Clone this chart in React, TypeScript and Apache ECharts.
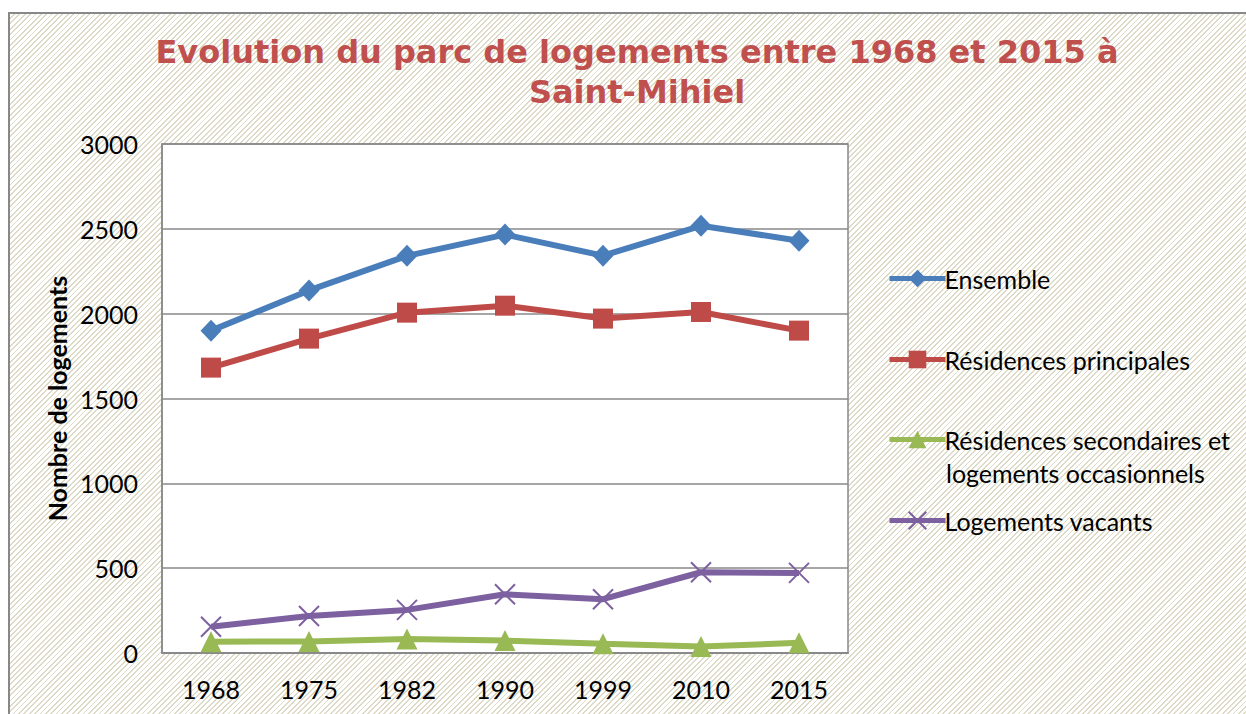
import React, { useEffect, useRef } from "react";
import * as echarts from "echarts";

const years = ["1968", "1975", "1982", "1990", "1999", "2010", "2015"];
const ensemble = [1900, 2137, 2341, 2466, 2342, 2518, 2430];
const principales = [1682, 1853, 2006, 2047, 1971, 2010, 1900];
const secondaires = [67, 68, 83, 73, 54, 38, 60];
const vacants = [155, 218, 254, 346, 317, 476, 472];
const yTicks = { min: 0, max: 3000, interval: 500 };

const seriesNames = [
  "Ensemble",
  "Résidences principales",
  "Résidences secondaires et logements occasionnels",
  "Logements vacants",
];

const FONT = "Lato";
const FS = 25;

export default function App() {
  const ref = useRef<HTMLDivElement>(null);
  useEffect(() => {
    if (!ref.current) return;
    const chart = echarts.init(ref.current, undefined, { renderer: "svg" });
    const legendBase = (name: string, top: number) => ({
      data: [name],
      orient: "vertical",
      left: 877,
      top,
      itemWidth: 56,
      itemHeight: 22,
      itemGap: 0,
      padding: 0,
      selectedMode: false,
      lineStyle: { width: 5 },
      textStyle: { fontFamily: FONT, fontSize: FS, color: "#000", padding: [0, 0, 0, -6] },
      formatter: (n: string) =>
        n === seriesNames[2] ? "Résidences secondaires et" : n,
    });
    chart.setOption({
      animation: false,
      backgroundColor: "transparent",
      title: {
        text: "Evolution du parc de logements entre 1968 et 2015 à\nSaint-Mihiel",
        left: 622,
        textAlign: "center",
        top: 13,
        textStyle: {
          fontFamily: "DejaVu Sans",
          fontWeight: "bold",
          fontSize: 32,
          lineHeight: 40,
          color: "#C0504D",
        },
      },
      grid: {
        left: 152,
        top: 130,
        width: 686,
        height: 509,
        show: true,
        backgroundColor: "#fff",
        borderColor: "#888",
        borderWidth: 1.5,
      },
      legend: [
        legendBase(seriesNames[0], 252),
        legendBase(seriesNames[1], 333),
        legendBase(seriesNames[2], 413),
        legendBase(seriesNames[3], 494),
      ],
      graphic: [
        {
          type: "text",
          left: 936,
          top: 446,
          style: { text: "logements occasionnels", fontFamily: FONT, fontSize: FS, fill: "#000" },
        },
      ],
      xAxis: {
        type: "category",
        data: years,
        boundaryGap: true,
        axisLine: { lineStyle: { color: "#888", width: 1.5 } },
        axisTick: { show: false },
        axisLabel: { fontFamily: FONT, fontSize: FS, color: "#000", margin: 23 },
      },
      yAxis: {
        type: "value",
        min: yTicks.min,
        max: yTicks.max,
        interval: yTicks.interval,
        name: "Nombre de logements",
        nameLocation: "middle",
        nameGap: 91,
        nameTextStyle: { fontFamily: FONT, fontSize: FS, fontWeight: "bold", color: "#000" },
        axisLine: { show: true, lineStyle: { color: "#888", width: 1.5 } },
        axisTick: { show: false },
        splitLine: { lineStyle: { color: "#888", width: 1.5 } },
        axisLabel: {
          fontFamily: FONT,
          fontSize: FS,
          color: "#000",
          margin: 24,
          formatter: (v: number) => String(v),
        },
      },
      series: [
        {
          name: seriesNames[0],
          type: "line",
          data: ensemble,
          symbol: "diamond",
          symbolSize: [21, 22],
          lineStyle: { color: "#4A7EBB", width: 6 },
          itemStyle: { color: "#4A7EBB" },
        },
        {
          name: seriesNames[1],
          type: "line",
          data: principales,
          symbol: "rect",
          symbolSize: 20,
          lineStyle: { color: "#BE4B48", width: 6 },
          itemStyle: { color: "#BE4B48" },
        },
        {
          name: seriesNames[2],
          type: "line",
          data: secondaires,
          symbol: "triangle",
          symbolSize: [21, 21],
          lineStyle: { color: "#98B954", width: 6 },
          itemStyle: { color: "#98B954" },
        },
        {
          name: seriesNames[3],
          type: "line",
          data: vacants,
          symbol: "path://M0,0L10,10M10,0L0,10",
          symbolSize: 20,
          lineStyle: { color: "#7D60A0", width: 6 },
          itemStyle: { color: "#7D60A0", borderColor: "#7D60A0", borderWidth: 2 },
        },
      ],
    });
    return () => chart.dispose();
  }, []);
  return (
    <div
      style={{
        position: "fixed",
        left: 0,
        top: 0,
        width: 1246,
        height: 714,
        overflow: "hidden",
        background: "#fff",
      }}
    >
      <div
        style={{
          position: "absolute",
          left: 8,
          top: 12,
          width: 1240,
          height: 710,
          borderTop: "2px solid #888",
          borderLeft: "2px solid #888",
          background:
            "repeating-linear-gradient(135deg, #fff 0px, #fff 2.5px, #dedac8 2.5px, #dedac8 3.8px)",
        }}
      >
        <div ref={ref} style={{ width: 1240, height: 710 }} />
      </div>
    </div>
  );
}
